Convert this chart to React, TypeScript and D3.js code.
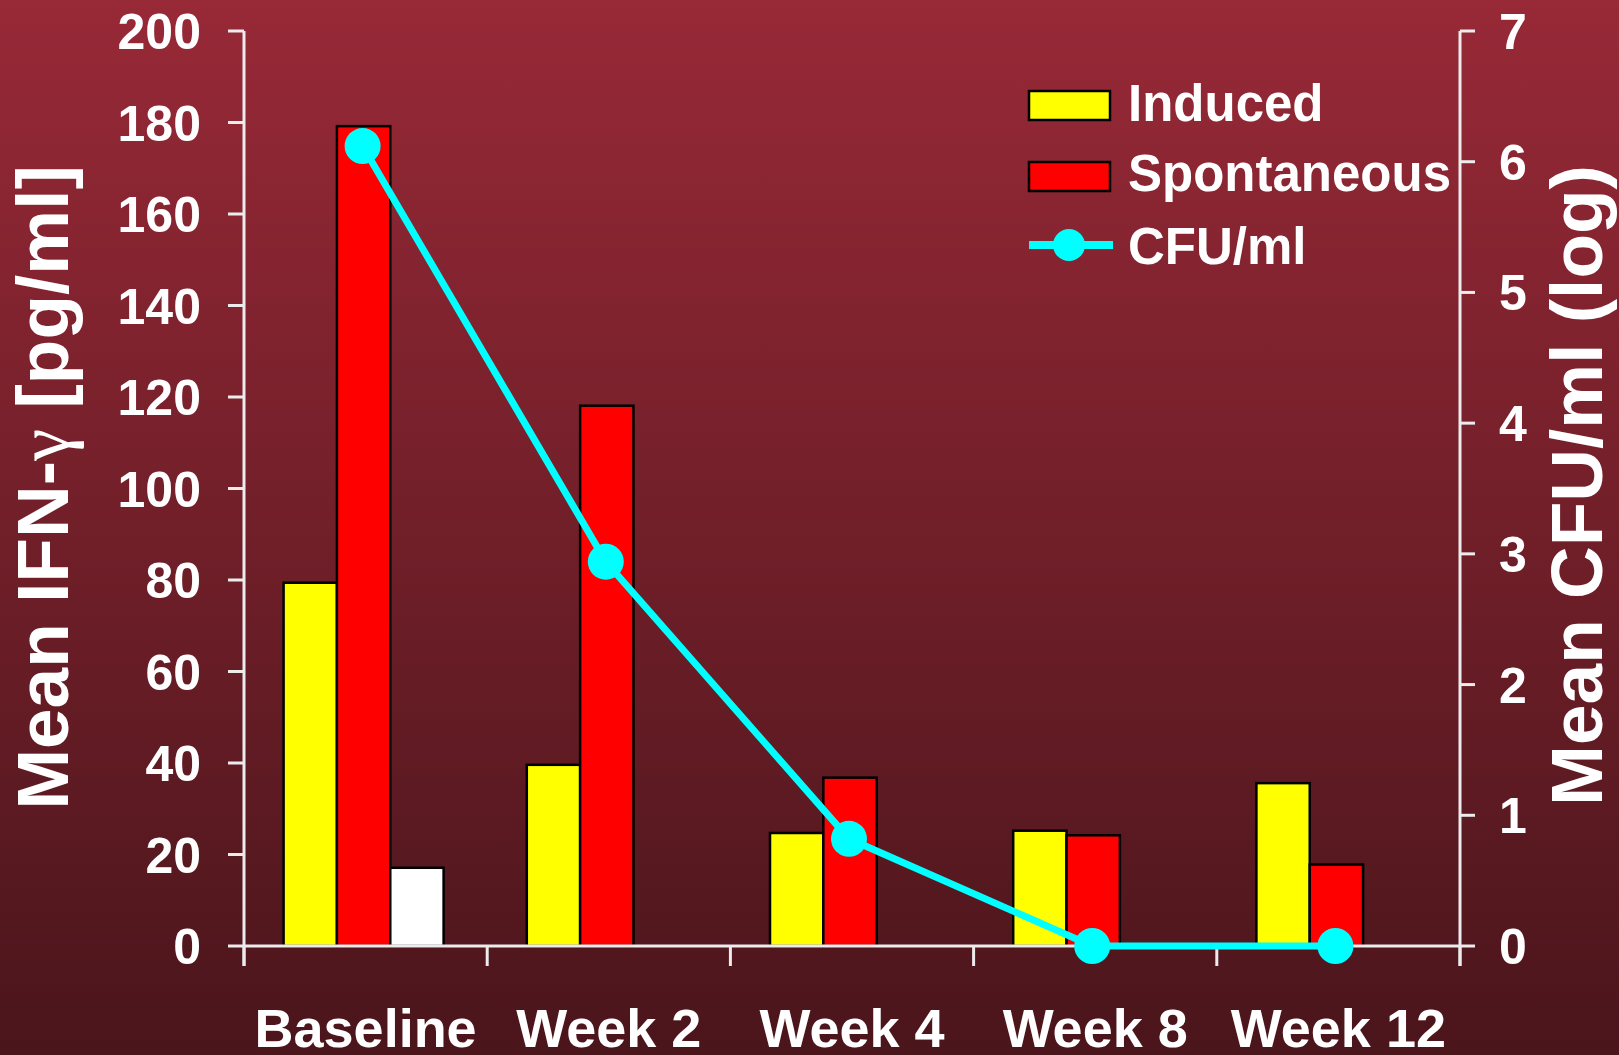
import React from "react";
import * as d3 from "d3";

const categories = ["Baseline", "Week 2", "Week 4", "Week 8", "Week 12"];
const induced = [79.4, 39.6, 24.7, 25.2, 35.6];
const spontaneous = [179.2, 118.1, 36.8, 24.2, 17.8];
const unlabeled: (number | null)[] = [17.1, null, null, null, null];
const cfuLog = [6.12, 2.94, 0.82, 0, 0];
const leftTicks = [0, 20, 40, 60, 80, 100, 120, 140, 160, 180, 200];
const rightTicks = [0, 1, 2, 3, 4, 5, 6, 7];

const W = 1619;
const H = 1055;
const FONT = "'Liberation Sans', Arial, sans-serif";
const AXIS = "#ececec";

export default function App() {
  const x = d3.scaleBand<string>().domain(categories).range([244, 1460]).padding(0);
  const y = d3.scaleLinear().domain([0, 200]).range([946, 31]);
  const y2 = d3.scaleLinear().domain([0, 7]).range([946, 31]);
  const sub = d3.scaleBand<number>().domain([0, 1, 2]).range([-82, 78]).padding(0);
  const cx = (c: string) => (x(c) as number) + x.bandwidth() / 2;
  const px = (c: string) => cx(c) - 3;

  const series = [
    { values: induced as (number | null)[], fill: "#ffff00", idx: 0 },
    { values: spontaneous as (number | null)[], fill: "#ff0000", idx: 1 },
    { values: unlabeled, fill: "#ffffff", idx: 2 },
  ];

  const line = d3
    .line<number>()
    .x((_, i) => px(categories[i]))
    .y((d) => y2(d));

  const boundaries = [...categories.map((c) => x(c) as number), 1460];

  return (
    <div style={{ position: "absolute", left: 0, top: 0, width: W, height: H }}>
      <svg width={W} height={H} style={{ display: "block" }}>
        <defs>
          <linearGradient id="bg" x1="0" y1="0" x2="0" y2="1">
            <stop offset="0%" stopColor="#982937" />
            <stop offset="100%" stopColor="#4a151b" />
          </linearGradient>
        </defs>
        <rect x={0} y={0} width={W} height={H} fill="url(#bg)" />

        {/* bars */}
        {series.map((s) =>
          s.values.map((v, i) =>
            v == null ? null : (
              <rect
                key={`b${s.idx}-${i}`}
                x={cx(categories[i]) + (sub(s.idx) as number)}
                y={y(v)}
                width={sub.bandwidth()}
                height={y(0) - y(v)}
                fill={s.fill}
                stroke="#000"
                strokeWidth={2.5}
              />
            )
          )
        )}

        {/* left axis */}
        <line x1={244} x2={244} y1={y(200)} y2={966} stroke={AXIS} strokeWidth={3} />
        {leftTicks.map((t) => (
          <g key={`lt${t}`}>
            <line x1={228} x2={244} y1={y(t)} y2={y(t)} stroke={AXIS} strokeWidth={3} />
            <text
              x={201}
              y={y(t)}
              dy="0.36em"
              textAnchor="end"
              fill="#fff"
              fontFamily={FONT}
              fontWeight="bold"
              fontSize={50}
            >
              {t}
            </text>
          </g>
        ))}

        {/* right axis */}
        <line x1={1460} x2={1460} y1={y2(7)} y2={966} stroke={AXIS} strokeWidth={3} />
        {rightTicks.map((t) => (
          <g key={`rt${t}`}>
            <line x1={1460} x2={1475} y1={y2(t)} y2={y2(t)} stroke={AXIS} strokeWidth={3} />
            <text
              x={1499}
              y={y2(t)}
              dy="0.36em"
              textAnchor="start"
              fill="#fff"
              fontFamily={FONT}
              fontWeight="bold"
              fontSize={50}
            >
              {t}
            </text>
          </g>
        ))}

        {/* x axis */}
        <line x1={244} x2={1460} y1={y(0)} y2={y(0)} stroke={AXIS} strokeWidth={3} />
        {boundaries.map((b, i) => (
          <line key={`xt${i}`} x1={b} x2={b} y1={y(0)} y2={966} stroke={AXIS} strokeWidth={3} />
        ))}
        {categories.map((c) => (
          <text
            key={`xl${c}`}
            x={cx(c)}
            y={1047}
            textAnchor="middle"
            fill="#fff"
            fontFamily={FONT}
            fontWeight="bold"
            fontSize={54}
          >
            {c}
          </text>
        ))}

        {/* CFU line */}
        <path d={line(cfuLog) || ""} fill="none" stroke="#00ffff" strokeWidth={7} />
        {cfuLog.map((v, i) => (
          <circle key={`c${i}`} cx={px(categories[i])} cy={y2(v)} r={18} fill="#00ffff" />
        ))}

        {/* axis titles */}
        <text
          transform={`translate(68,${(y(0) + y(200)) / 2 - 1}) rotate(-90)`}
          textAnchor="middle"
          fill="#fff"
          fontFamily={FONT}
          fontWeight="bold"
          fontSize={73}
        >
          Mean IFN-
          <tspan fontFamily="'Liberation Serif', 'DejaVu Serif', serif" fontWeight="normal">
            γ
          </tspan>{" "}
          [pg/ml]
        </text>
        <text
          transform={`translate(1602,${(y(0) + y(200)) / 2 - 3}) rotate(-90)`}
          textAnchor="middle"
          fill="#fff"
          fontFamily={FONT}
          fontWeight="bold"
          fontSize={73}
        >
          Mean CFU/ml (log)
        </text>

        {/* legend */}
        <rect x={1029} y={91} width={81} height={29} fill="#ffff00" stroke="#000" strokeWidth={2.5} />
        <text x={1128} y={121} fill="#fff" fontFamily={FONT} fontWeight="bold" fontSize={51}>
          Induced
        </text>
        <rect x={1029} y={162} width={81} height={29} fill="#ff0000" stroke="#000" strokeWidth={2.5} />
        <text x={1128} y={191} fill="#fff" fontFamily={FONT} fontWeight="bold" fontSize={51}>
          Spontaneous
        </text>
        <line x1={1029} x2={1113} y1={245} y2={245} stroke="#00ffff" strokeWidth={8} />
        <circle cx={1069} cy={245} r={16} fill="#00ffff" />
        <text x={1128} y={264} fill="#fff" fontFamily={FONT} fontWeight="bold" fontSize={51}>
          CFU/ml
        </text>
      </svg>
    </div>
  );
}
